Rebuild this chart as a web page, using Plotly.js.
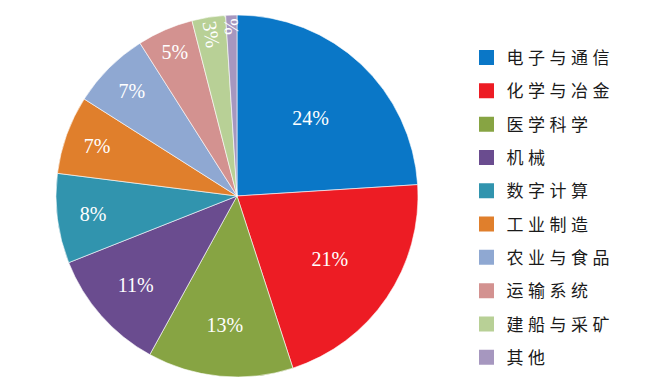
<!DOCTYPE html>
<html><head><meta charset="utf-8">
<script src="https://cdn.plot.ly/plotly-3.0.1.min.js"></script>
<style>
html,body{margin:0;padding:0;background:#fff;}
.legendtext{letter-spacing:4.5px;}
</style>
</head><body>
<div id="chart" style="width:650px;height:386px;"></div>
<script>
const labels = ["电子与通信","化学与冶金","医学科学","机械","数字计算","工业制造","农业与食品","运输系统","建船与采矿","其他"];
const values = [24,21,13,11,8,7,7,5,3,1];
const colors = ["#0A77C7","#ED1C24","#87A443","#6A4C8F","#3194AE","#E07F2C","#8FA8D2","#D39290","#B8D096","#A697BF"];

const traces = [{
  type:"pie",
  labels: labels,
  values: values,
  sort:false,
  direction:"clockwise",
  rotation:0,
  marker:{colors: colors, line:{color:"#ffffff", width:0.6}},
  textinfo:"percent",
  textposition:"inside",
  insidetextorientation:"auto",
  textfont:{family:"Liberation Serif", size:20, color:"#ffffff"},
  domain:{x:[56/650, 418/650], y:[1-377/386, 1-15/386]},
  showlegend:false,
  hoverinfo:"label+percent"
}];
labels.forEach((lab,i)=>{
  traces.push({
    type:"scatter", mode:"markers", x:[null], y:[null],
    name: lab, legendgroup:"g"+i,
    marker:{symbol:"square", size:15, color: colors[i]},
    showlegend:true, hoverinfo:"skip"
  });
});

const layout = {
  width:650, height:386,
  margin:{l:0,r:0,t:0,b:0},
  paper_bgcolor:"#ffffff", plot_bgcolor:"#ffffff",
  xaxis:{visible:false}, yaxis:{visible:false},
  uniformtext:{mode:"show", minsize:20},
  showlegend:true,
  legend:{x:466.5/650, xanchor:"left", y:1-40/386, yanchor:"top",
    font:{family:"Noto Sans CJK SC", size:17, color:"#1a1a1a"},
    tracegroupgap:8.2, borderwidth:0, bgcolor:"rgba(0,0,0,0)",
    itemclick:false, itemdoubleclick:false}
};
Plotly.newPlot("chart", traces, layout, {displayModeBar:false, staticPlot:true});
</script>
</body></html>
